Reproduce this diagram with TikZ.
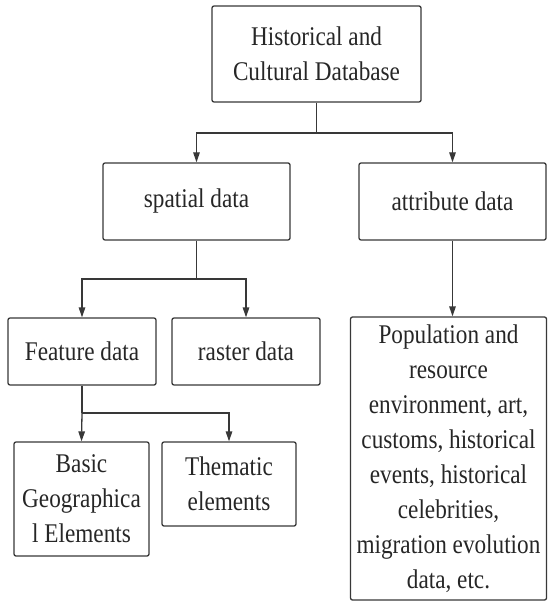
\documentclass[tikz,border=0pt]{standalone}
\usepackage{fontspec}
\setmainfont[FakeStretch=0.86]{Liberation Serif}
\usetikzlibrary{arrows.meta}
\begin{document}
\begin{tikzpicture}[x=1pt,y=-1pt,
  box/.style={draw=black!78,line width=1.3pt,rounded corners=2pt,align=center,
    font=\fontsize{27}{35}\selectfont,inner sep=0pt,text=black!85},
  link/.style={draw=black!78,line width=1.3pt},
  arr/.style={link,-{Triangle[length=10pt,width=6.5pt]}}]
\useasboundingbox (0,0) rectangle (548,601);
\node[box,minimum width=209pt,minimum height=96pt] (top) at (316.5,54) {Historical and\\Cultural Database};
\node[box,minimum width=187pt,minimum height=77pt] (spatial) at (196.5,201.5) {spatial data};
\node[box,minimum width=187pt,minimum height=77pt] (attr) at (452.5,201.5) {attribute data};
\node[box,minimum width=148pt,minimum height=67pt] (feature) at (82,351.5) {Feature data};
\node[box,minimum width=148pt,minimum height=67pt] (raster) at (246,351.5) {raster data};
\node[box,minimum width=196pt,minimum height=283pt] (pop) at (448.5,458.5) {Population and\\resource\\environment, art,\\customs, historical\\events, historical\\celebrities,\\migration evolution\\data, etc.};
\node[box,minimum width=135pt,minimum height=114pt] (basic) at (81.5,499) {Basic\\Geographica\\l Elements};
\node[box,minimum width=134pt,minimum height=84pt] (thematic) at (229,484) {Thematic\\elements};
\coordinate (j1) at (316.5,133);
\coordinate (j2) at (196.5,279);
\coordinate (j3) at (82,413);
\draw[link] (top.south) -- (j1);
\draw[arr] (j1) -| (spatial.north);
\draw[arr] (j1) -| (attr.north);
\draw[link] (spatial.south) -- (j2);
\draw[arr] (j2) -| (feature.north);
\draw[arr] (j2) -| (raster.north);
\draw[arr] (attr.south) -- (attr.south |- pop.north);
\draw[link] (feature.south) -- (j3);
\draw[arr] (j3) -- (basic.north);
\draw[arr] (j3) -| (thematic.north);
\end{tikzpicture}
\end{document}
